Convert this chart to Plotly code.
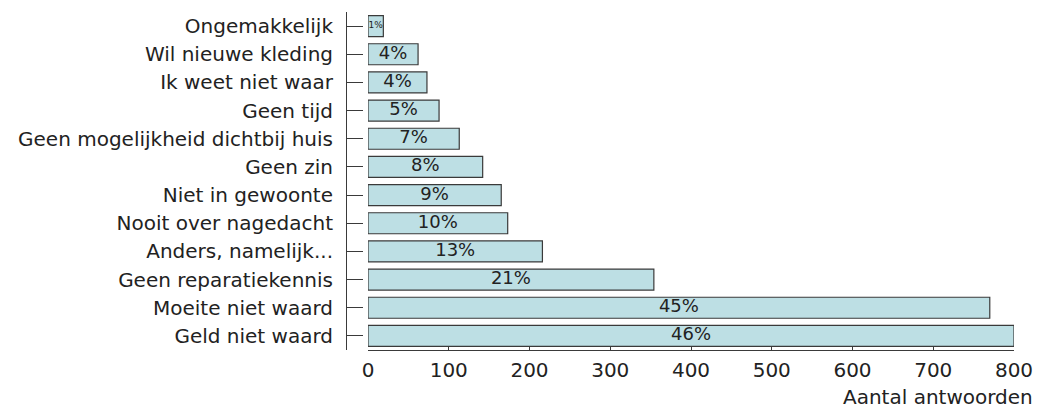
import plotly.graph_objects as go

# Survey answers: reasons for not repairing clothes
categories = [
    "Geld niet waard",
    "Moeite niet waard",
    "Geen reparatiekennis",
    "Anders, namelijk...",
    "Nooit over nagedacht",
    "Niet in gewoonte",
    "Geen zin",
    "Geen mogelijkheid dichtbij huis",
    "Geen tijd",
    "Ik weet niet waar",
    "Wil nieuwe kleding",
    "Ongemakkelijk",
]
counts = [800, 770, 354, 216, 173, 165, 142, 113, 88, 73, 62, 19]
percent_labels = ["46%", "45%", "21%", "13%", "10%", "9%", "8%", "7%", "5%", "4%", "4%", "1%"]
x_ticks = [0, 100, 200, 300, 400, 500, 600, 700, 800]

W, H = 1038, 409
FONT = "DejaVu Sans"
INK = "#222222"
LINE = "#3a3a3a"

# pixel layout of the plotting area
left_px, right_px = 368, 1014
top_px, bottom_px = 12, 350
yaxis_px = 346

fig = go.Figure()

fig.add_trace(
    go.Bar(
        y=categories,
        x=counts,
        orientation="h",
        marker=dict(color="#bddfe4", line=dict(color=LINE, width=1.2)),
        hoverinfo="skip",
    )
)

# percentage labels centred on each bar; the narrow first bar gets a small label
label_sizes = [9 if c < 30 else 18 for c in counts]
fig.add_trace(
    go.Scatter(
        y=categories,
        x=[c / 2 for c in counts],
        mode="text",
        text=percent_labels,
        textposition="middle center",
        textfont=dict(family=FONT, size=label_sizes, color=INK),
        hoverinfo="skip",
        cliponaxis=False,
    )
)

fig.update_layout(
    width=W,
    height=H,
    autosize=False,
    margin=dict(l=0, r=0, t=top_px, b=H - bottom_px, autoexpand=False),
    paper_bgcolor="white",
    plot_bgcolor="white",
    showlegend=False,
    bargap=0.255,
    font=dict(family=FONT, color=INK),
    xaxis=dict(
        domain=[left_px / W, right_px / W],
        range=[0, 800],
        tickvals=x_ticks,
        ticktext=[str(v) for v in x_ticks],
        ticks="inside",
        ticklen=4,
        tickcolor=LINE,
        showline=True,
        linecolor=LINE,
        linewidth=1,
        showgrid=False,
        zeroline=False,
        automargin=False,
        tickfont=dict(family=FONT, size=20, color=INK),
        ticklabelstandoff=2,
        fixedrange=True,
    ),
    yaxis=dict(
        anchor="free",
        position=yaxis_px / W,
        categoryorder="array",
        categoryarray=categories,
        range=[-0.5, len(categories) - 0.5],
        ticks="inside",
        ticklen=16,
        tickcolor=LINE,
        showline=True,
        linecolor=LINE,
        linewidth=1,
        showgrid=False,
        zeroline=False,
        automargin=False,
        tickfont=dict(family=FONT, size=20, color=INK),
        ticklabelstandoff=9,
        fixedrange=True,
    ),
)

fig.add_annotation(
    text="Aantal antwoorden",
    xref="paper",
    yref="paper",
    x=1035 / W,
    y=(bottom_px - 397) / (bottom_px - top_px),
    xanchor="right",
    yanchor="middle",
    showarrow=False,
    font=dict(family=FONT, size=20, color=INK),
)

fig.write_html("out.html")
